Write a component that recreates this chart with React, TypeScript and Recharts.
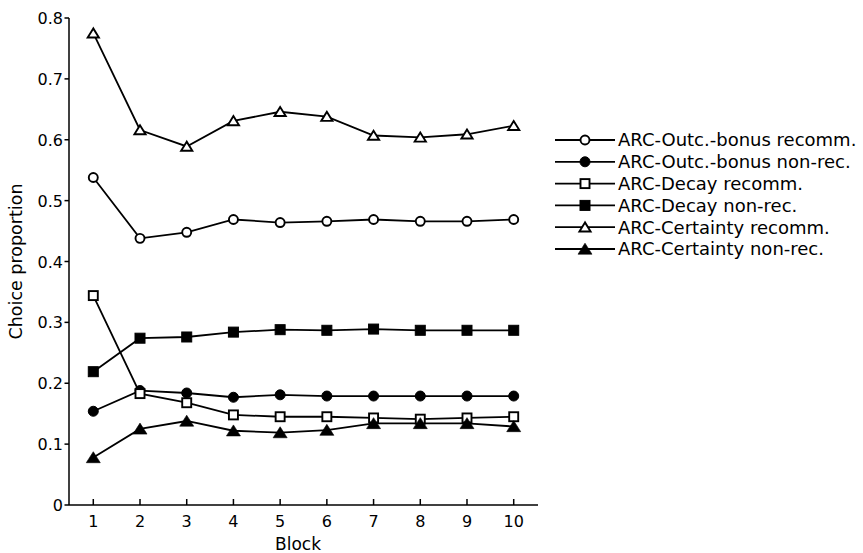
import React from 'react';
import { LineChart, Line, XAxis, YAxis, Legend, Label } from 'recharts';

const blocks = [1, 2, 3, 4, 5, 6, 7, 8, 9, 10];
const yTicks = [0, 0.1, 0.2, 0.3, 0.4, 0.5, 0.6, 0.7, 0.8];

const outcRecomm = [0.538, 0.438, 0.448, 0.469, 0.464, 0.466, 0.469, 0.466, 0.466, 0.469];
const outcNonRec = [0.154, 0.188, 0.184, 0.177, 0.181, 0.179, 0.179, 0.179, 0.179, 0.179];
const decayRecomm = [0.344, 0.183, 0.168, 0.148, 0.145, 0.145, 0.143, 0.141, 0.143, 0.145];
const decayNonRec = [0.219, 0.274, 0.276, 0.284, 0.288, 0.287, 0.289, 0.287, 0.287, 0.287];
const certRecomm = [0.775, 0.616, 0.589, 0.631, 0.646, 0.638, 0.607, 0.604, 0.609, 0.623];
const certNonRec = [0.078, 0.125, 0.138, 0.122, 0.119, 0.123, 0.134, 0.134, 0.134, 0.129];

const seriesNames = [
  'ARC-Outc.-bonus recomm.',
  'ARC-Outc.-bonus non-rec.',
  'ARC-Decay recomm.',
  'ARC-Decay non-rec.',
  'ARC-Certainty recomm.',
  'ARC-Certainty non-rec.',
];

const series = [
  { key: 'outcRecomm', name: seriesNames[0], values: outcRecomm, shape: 'circle', filled: false },
  { key: 'outcNonRec', name: seriesNames[1], values: outcNonRec, shape: 'circle', filled: true },
  { key: 'decayRecomm', name: seriesNames[2], values: decayRecomm, shape: 'square', filled: false },
  { key: 'decayNonRec', name: seriesNames[3], values: decayNonRec, shape: 'square', filled: true },
  { key: 'certRecomm', name: seriesNames[4], values: certRecomm, shape: 'triangle', filled: false },
  { key: 'certNonRec', name: seriesNames[5], values: certNonRec, shape: 'triangle', filled: true },
];

const data = blocks.map((b, i) => {
  const row: any = { block: b };
  series.forEach((s) => {
    row[s.key] = s.values[i];
  });
  return row;
});

const FONT = '"DejaVu Sans", sans-serif';

function Marker({ shape, filled, cx, cy }: any) {
  if (shape === 'circle') {
    return filled ? (
      <circle cx={cx} cy={cy} r={5} fill="#000" stroke="#000" strokeWidth={1} />
    ) : (
      <circle cx={cx} cy={cy} r={4.5} fill="#fff" stroke="#000" strokeWidth={1.9} />
    );
  }
  if (shape === 'square') {
    return filled ? (
      <rect x={cx - 5} y={cy - 5} width={10} height={10} fill="#000" stroke="#000" strokeWidth={1} />
    ) : (
      <rect x={cx - 4.5} y={cy - 4.5} width={9} height={9} fill="#fff" stroke="#000" strokeWidth={1.9} />
    );
  }
  if (filled) {
    const pts = `${cx},${cy - 5.8} ${cx - 7},${cy + 5.2} ${cx + 7},${cy + 5.2}`;
    return <polygon points={pts} fill="#000" stroke="#000" strokeWidth={0.6} />;
  }
  const pts = `${cx},${cy - 4.8} ${cx - 5.6},${cy + 4.3} ${cx + 5.6},${cy + 4.3}`;
  return <polygon points={pts} fill="#fff" stroke="#000" strokeWidth={1.9} strokeLinejoin="miter" />;
}

const makeDot = (shape: string, filled: boolean) => (props: any) => {
  const { cx, cy, index } = props;
  if (cx == null || cy == null) return <g key={index} />;
  return <Marker key={index} shape={shape} filled={filled} cx={cx} cy={cy} />;
};

const XTick = (props: any) => {
  const { x, y, payload } = props;
  return (
    <g>
      <line x1={x} x2={x} y1={y} y2={y - 6} stroke="#000" strokeWidth={1.5} />
      <text x={x} y={y + 22} textAnchor="middle" fontFamily={FONT} fontSize={16} fill="#000">
        {payload.value}
      </text>
    </g>
  );
};

const YTick = (props: any) => {
  const { x, y, payload } = props;
  const v = payload.value;
  const label = v === 0 ? '0' : Number(v).toFixed(1);
  return (
    <g>
      <line x1={x - 4.5} x2={x} y1={y} y2={y} stroke="#000" strokeWidth={1.5} />
      <text x={x - 6} y={y + 6} textAnchor="end" fontFamily={FONT} fontSize={16} fill="#000">
        {label}
      </text>
    </g>
  );
};

const YLabel = (props: any) => {
  const vb = props.viewBox || { y: 18, height: 487 };
  const cx = 22;
  const cy = vb.y + vb.height / 2;
  return (
    <text
      x={cx}
      y={cy}
      transform={`rotate(-90 ${cx} ${cy})`}
      textAnchor="middle"
      fontFamily={FONT}
      fontSize={17.5}
      fill="#000"
    >
      Choice proportion
    </text>
  );
};

const XLabel = () => {
  return (
    <text x={298} y={549.5} textAnchor="middle" fontFamily={FONT} fontSize={17} fill="#000">
      Block
    </text>
  );
};

const renderLegend = () => {
  return (
    <svg width={323} height={140} style={{ display: 'block' }}>
      {series.map((s, i) => {
        const cy = 14 + i * 21.8;
        return (
          <g key={s.key}>
            <line x1={15} x2={75} y1={cy} y2={cy} stroke="#000" strokeWidth={1.8} />
            <Marker shape={s.shape} filled={s.filled} cx={45} cy={cy} />
            <text x={78} y={cy + 6.4} fontFamily={FONT} fontSize={18} fill="#000">
              {s.name}
            </text>
          </g>
        );
      })}
    </svg>
  );
};

export default function App() {
  return (
    <div style={{ position: 'absolute', left: 0, top: 0, width: 863, height: 553, background: '#fff' }}>
      <LineChart
        width={863}
        height={553}
        data={data}
        margin={{ top: 18, right: 325, bottom: 0, left: 0 }}
      >
        <XAxis
          dataKey="block"
          type="number"
          domain={[0.48, 10.52]}
          ticks={blocks}
          interval={0}
          allowDataOverflow
          height={48}
          tickSize={0}
          tickMargin={0}
          tickLine={false}
          tick={<XTick />}
          axisLine={{ stroke: '#000', strokeWidth: 1.5 }}
        >
          <Label content={<XLabel />} />
        </XAxis>
        <YAxis
          type="number"
          domain={[0, 0.8]}
          ticks={yTicks}
          interval={0}
          width={69}
          tickSize={0}
          tickMargin={0}
          tickLine={false}
          tick={<YTick />}
          axisLine={{ stroke: '#000', strokeWidth: 1.5 }}
        >
          <Label content={<YLabel />} />
        </YAxis>
        <Legend
          layout="vertical"
          align="center"
          verticalAlign="middle"
          wrapperStyle={{ left: 540, top: 126, width: 323, height: 140 }}
          content={renderLegend}
        />
        {series.map((s) => (
          <Line
            key={s.key}
            dataKey={s.key}
            name={s.name}
            type="linear"
            stroke="#000"
            strokeWidth={1.8}
            dot={makeDot(s.shape, s.filled)}
            activeDot={false}
            isAnimationActive={false}
          />
        ))}
      </LineChart>
    </div>
  );
}
